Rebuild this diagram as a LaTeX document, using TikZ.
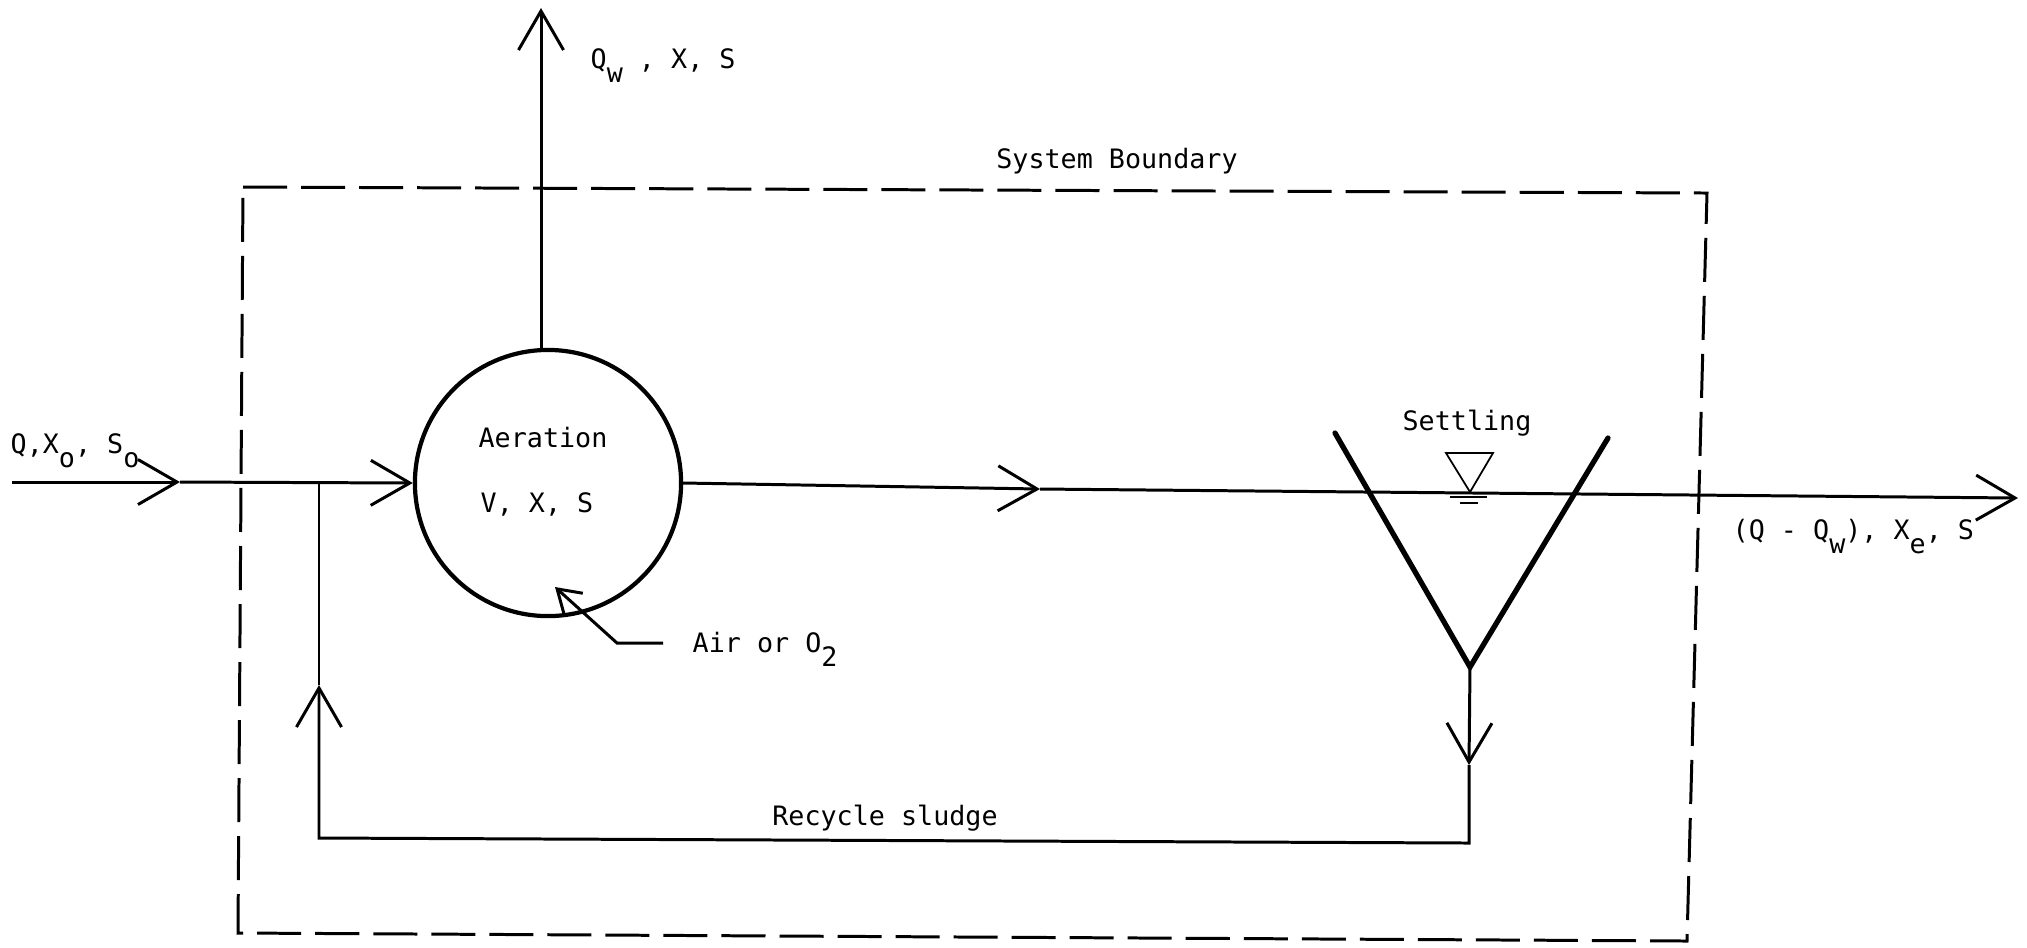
\documentclass[tikz,border=0pt]{standalone}
\usepackage{fontspec}
\setmainfont{DejaVu Sans Mono}
\usetikzlibrary{arrows.meta}
\newcommand{\dn}[1]{\raisebox{-1ex}{#1}}

\begin{document}
\begin{tikzpicture}[x=0.01cm, y=-0.01cm,
  font=\fontsize{7.6pt}{9pt}\selectfont,
  >={Straight Barb[length=3.9mm, width=4.5mm]},
  ln/.style={line width=0.85pt},
  a/.style={ln, ->},
  bnd/.style={line width=0.85pt, dash pattern=on 4.4mm off 1.4mm},
  lbl/.style={inner sep=0pt, anchor=base west},
]
\useasboundingbox (0,0) rectangle (2027,947);

% system boundary
\draw[bnd] (243,187) -- (1707,193) -- (1687,941) -- (238,933) -- cycle;
\node[lbl, anchor=base] (sb) at (1117,168) {System Boundary};

% aeration tank
\node[circle, draw, line width=1.2pt, minimum size=2.66cm, inner sep=0pt] (aer) at (548,483) {};
\node[lbl, anchor=base] (aert) at (543,447) {Aeration};
\node[lbl, anchor=base] (aerv) at (537,512) {V, X, S};

% influent
\coordinate (in) at (12,482);
\coordinate (ina) at (180,482);
\coordinate (br) at (319,482);
\draw[a] (in) -- (ina);
\draw[a] (ina) -- (aer.west);
\node[lbl] (inl) at (10,453) {Q,X\dn{o}, S\dn{o}};

% waste
\coordinate (wst) at (541,8);
\draw[a] (aer.north -| wst) -- (wst);
\node[lbl] (wl) at (590,68) {Q\dn{w} , X, S};

% effluent
\coordinate (mid) at (1040,489);
\coordinate (out) at (2018,498);
\draw[a] (aer.east) -- (mid);
\draw[a] (mid) -- (out);
\node[lbl] (outl) at (1732,539) {(Q - Q\dn{w}), X\dn{e}, S};

% clarifier
\coordinate (vl) at (1335,433);
\coordinate (vb) at (1470,667);
\coordinate (vr) at (1608,438);
\draw[line width=1.5pt, line cap=round] (vl) -- (vb) -- (vr);
\node[lbl, anchor=base] (st) at (1467,430) {Settling};
% water level mark
\draw[line width=0.5pt] (1446,453) -- (1493,453) -- (1470,492) -- cycle;
\draw[line width=0.5pt] (1450,497) -- (1487,497) (1460,503) -- (1478,503);

% sludge recycle
\coordinate (dn) at (1469,765);
\coordinate (rr) at (1469,843);
\coordinate (rl) at (319,838);
\coordinate (up) at (319,685);
\draw[a] (vb) -- (dn);
\draw[a] (dn) -- (rr) -- (rl) -- (up);
\draw[ln] (up) -- (br);
\node[lbl, anchor=base] (rs) at (885,825) {Recycle sludge};

% air supply
\coordinate (air) at (663,643);
\coordinate (airk) at (617,643);
\coordinate (airt) at (555,587);
\draw[ln, -{Straight Barb[length=2.2mm, width=2.8mm]}] (air) -- (airk) -- (airt);
\node[lbl] (airl) at (692,652) {Air or O\dn{2}};
\end{tikzpicture}
\end{document}
